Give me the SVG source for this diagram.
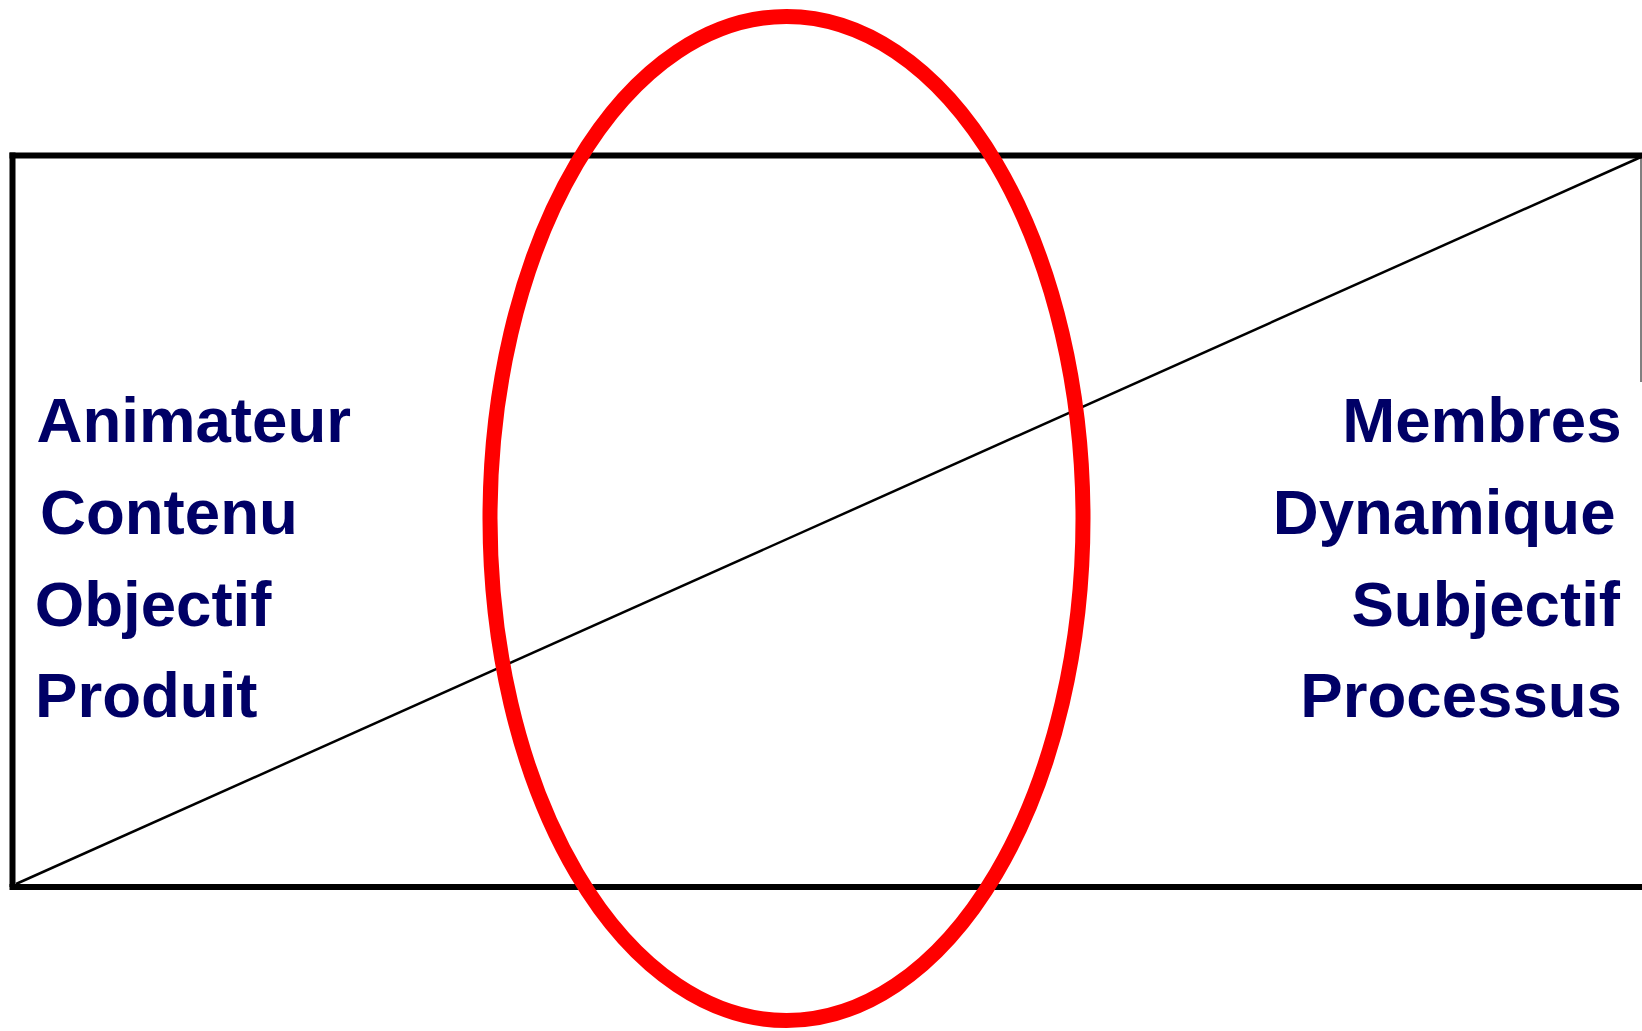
<svg xmlns="http://www.w3.org/2000/svg" width="1642" height="1031" viewBox="0 0 1642 1031">
  <style>
    .frame { stroke: #000; stroke-width: 6; fill: none; }
    .diag { stroke: #000; stroke-width: 2.5; fill: none; }
    .oval { stroke: #ff0000; stroke-width: 15; fill: none; }
    .lbl { font-family: "Liberation Sans", Arial, sans-serif; font-weight: bold; font-size: 63.6px; fill: #000066; }
    .r { text-anchor: end; }
  </style>
  <g id="frame">
    <line class="frame" x1="12.5" y1="152.5" x2="12.5" y2="887"/>
    <line class="frame" x1="9.5" y1="155.5" x2="1642" y2="155.5"/>
    <line class="frame" x1="9.5" y1="887" x2="1642" y2="887"/>
    <line x1="1641" y1="155" x2="1641" y2="382" stroke="#000" stroke-width="1"/>
  </g>
  <g id="connectors">
    <line class="diag" x1="16" y1="884" x2="1641" y2="157"/>
  </g>
  <g id="oval">
    <ellipse class="oval" cx="786.5" cy="518.5" rx="296.5" ry="502"/>
  </g>
  <g id="left-labels">
    <text class="lbl" x="36.5" y="442">Animateur</text>
    <text class="lbl" x="40" y="533.5">Contenu</text>
    <text class="lbl" x="34.7" y="626">Objectif</text>
    <text class="lbl" x="35" y="717">Produit</text>
  </g>
  <g id="right-labels">
    <text class="lbl r" x="1621.5" y="442">Membres</text>
    <text class="lbl r" x="1615.5" y="533.5">Dynamique</text>
    <text class="lbl r" x="1620" y="626">Subjectif</text>
    <text class="lbl r" x="1622" y="717">Processus</text>
  </g>
</svg>
